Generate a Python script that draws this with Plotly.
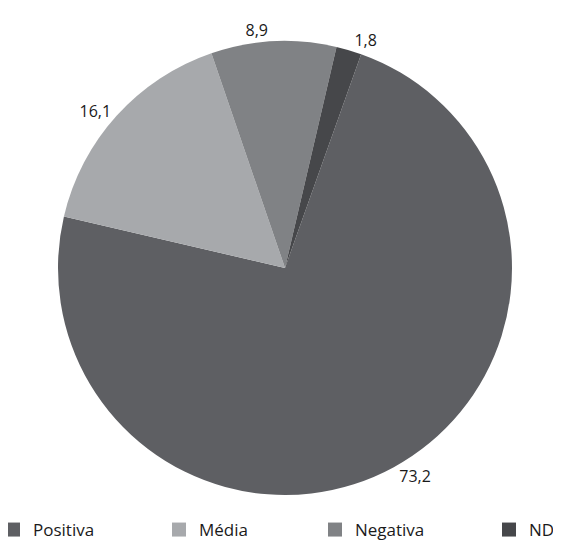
import plotly.graph_objects as go

labels = ["Positiva", "Média", "Negativa", "ND"]
values = [73.2, 16.1, 8.9, 1.8]
value_text = ["73,2", "16,1", "8,9", "1,8"]
colors = ["#5e5f63", "#a7a9ac", "#808285", "#46474a"]

# The page body adds an 8px offset, so the figure is drawn 8px smaller.
OFF = 8
W, H = 561 - OFF, 542 - OFF
pie_box = dict(left=58, right=512, top=41, bottom=495)   # target px in window
legend_square_px = [12, 178, 334, 508]                   # legend square centres
legend_row_px = 530                                      # legend row centre

fig = go.Figure()
fig.add_trace(go.Pie(
    labels=labels,
    values=values,
    text=value_text,
    textinfo="text",
    textposition="outside",
    sort=False,
    direction="clockwise",
    rotation=19.6,
    marker=dict(colors=colors, line=dict(width=0)),
    outsidetextfont=dict(color="#1a1a1a", size=16),
    showlegend=False,
    hoverinfo="label+value",
    domain=dict(
        x=[(pie_box["left"] - OFF) / W, (pie_box["right"] - OFF) / W],
        y=[(H - (pie_box["bottom"] - OFF)) / H, (H - (pie_box["top"] - OFF)) / H],
    ),
))

legend_names = ["legend", "legend2", "legend3", "legend4"]
for lab, col, lg in zip(labels, colors, legend_names):
    fig.add_trace(go.Scatter(
        x=[None], y=[None], mode="markers", name=lab,
        marker=dict(symbol="square", size=14, color=col),
        showlegend=True, legend=lg, hoverinfo="skip",
    ))

layout_legends = {}
for lg, px in zip(legend_names, legend_square_px):
    layout_legends[lg] = dict(
        orientation="h",
        x=(px - OFF - 19) / W, xanchor="left",
        y=(H - (legend_row_px - OFF)) / H, yanchor="middle",
        itemwidth=30,
        font=dict(size=17, color="#1a1a1a"),
        bgcolor="rgba(0,0,0,0)",
    )

fig.update_layout(
    width=W, height=H,
    margin=dict(l=0, r=0, t=0, b=0, autoexpand=False),
    paper_bgcolor="white",
    plot_bgcolor="white",
    font=dict(family="Open Sans, Noto Sans, sans-serif", size=16, color="#1a1a1a"),
    xaxis=dict(visible=False),
    yaxis=dict(visible=False),
    **layout_legends,
)

fig.write_html("out.html")
